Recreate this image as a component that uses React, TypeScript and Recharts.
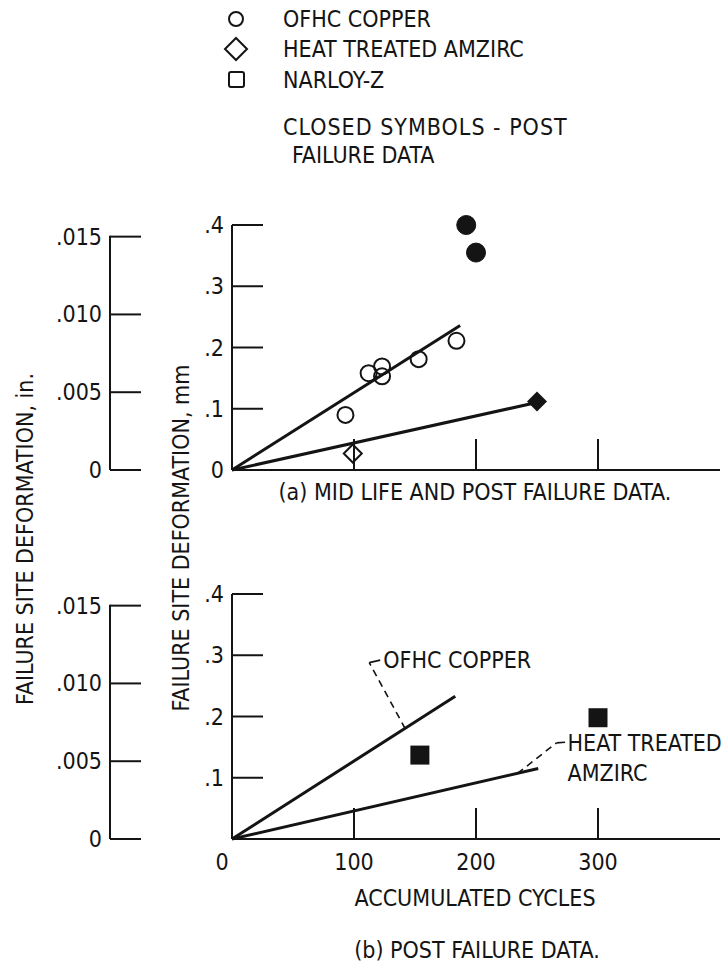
import React from 'react';
import { ScatterChart, Scatter, XAxis, YAxis } from 'recharts';

// ---------- data ----------
const ofhcMidCycles = [93, 112, 123, 123, 153, 184];
const ofhcMidDeform = [0.09, 0.158, 0.169, 0.153, 0.181, 0.211];
const ofhcPostCycles = [192, 200];
const ofhcPostDeform = [0.4, 0.355];
const amzircMidCycles = [99];
const amzircMidDeform = [0.027];
const amzircPostCycles = [250];
const amzircPostDeform = [0.112];
const narloyPostCycles = [154, 300];
const narloyPostDeform = [0.137, 0.198];

const ofhcFitACycles = [0, 187];
const ofhcFitADeform = [0, 0.236];
const amzircFitACycles = [0, 247];
const amzircFitADeform = [0, 0.109];
const ofhcFitBCycles = [0, 183];
const ofhcFitBDeform = [0, 0.233];
const amzircFitBCycles = [0, 251];
const amzircFitBDeform = [0, 0.115];

const ofhcLeaderCycles = [142, 112.5];
const ofhcLeaderDeform = [0.18, 0.288];
const ofhcHookCycles = [112.5, 121.5];
const ofhcHookDeform = [0.288, 0.292];
const amzircLeaderCycles = [234, 266];
const amzircLeaderDeform = [0.107, 0.157];
const amzircHookCycles = [266, 273];
const amzircHookDeform = [0.157, 0.158];
const calloutLabels = ['OFHC COPPER', 'HEAT TREATED', 'AMZIRC'];
const calloutCycles = [124, 275, 275];
const calloutDeform = [0.292, 0.157, 0.108];

const cycleTicks = [0, 100, 200, 300];
const cycleTickLabels = ['0', '100', '200', '300'];
const mmTicks = [0, 0.1, 0.2, 0.3, 0.4];
const mmTickLabels = ['0', '.1', '.2', '.3', '.4'];
const inchTicks = [0, 0.005, 0.01, 0.015];
const inchTickLabels = ['0', '.005', '.010', '.015'];
const MM_PER_IN = 25.4;
const CYCLE_MAX = 400;
const MM_MAX = 0.4;

const legendLabels = ['OFHC COPPER', 'HEAT TREATED AMZIRC', 'NARLOY-Z'];
const noteLines = ['CLOSED SYMBOLS - POST', 'FAILURE DATA'];

// ---------- styling / layout ----------
const FONT = "'Liberation Sans Narrow', 'DejaVu Sans Condensed', 'Arial Narrow', sans-serif";
const INK = '#141414';
const FS = 23;
const TICK_LEN = 31;
const TICK_GAP = 6;
const W = 722;
const PLOT_LEFT = 232;
const PLOT_RIGHT = 720;
const PLOT_H = 245;
const INCH_AXIS_X = 110;
const XAXIS_H = 30;

// axis ids: numeric so the mm axis (0) is always placed next to the plot, inch axis (1) outside it
const MM_AXIS = 0;
const IN_AXIS = 1;
const cycleDomain = [0, CYCLE_MAX];
const mmDomain = [0, MM_MAX];
const inchDomain = [0, MM_MAX / MM_PER_IN];
const axisLineStyle = { stroke: INK, strokeWidth: 2 };

const pts = (xs: number[], ys: number[]) => xs.map((x, i) => ({ x, y: ys[i] }));

const hollowCircle = (p: any) => (
  <circle cx={p.cx} cy={p.cy} r={8} fill="none" stroke={INK} strokeWidth={2} />
);
const solidCircle = (p: any) => <circle cx={p.cx} cy={p.cy} r={9.5} fill={INK} stroke={INK} />;
const hollowDiamond = (p: any) => {
  const cx = Number(p.cx);
  const cy = Number(p.cy);
  return (
    <path
      d={`M${cx},${cy - 9} L${cx + 9},${cy} L${cx},${cy + 9} L${cx - 9},${cy} Z`}
      fill="none"
      stroke={INK}
      strokeWidth={2}
    />
  );
};
const solidDiamond = (p: any) => {
  const cx = Number(p.cx);
  const cy = Number(p.cy);
  return <path d={`M${cx},${cy - 10} L${cx + 10},${cy} L${cx},${cy + 10} L${cx - 10},${cy} Z`} fill={INK} />;
};
const solidSquare = (p: any) => (
  <rect x={Number(p.cx) - 9.5} y={Number(p.cy) - 9.5} width={19} height={19} fill={INK} />
);
const noMark = () => <g />;

const calloutText = (p: any) => (
  <text x={p.cx} y={p.cy} dominantBaseline="central" fontFamily={FONT} fontSize={FS} fill={INK}>
    {p.payload.label}
  </text>
);

// inch axis tick: inward tick line + label; the top tick also draws the axis spine down to 0
const inchMax = inchTicks[inchTicks.length - 1];
const pxPerInch = (PLOT_H * MM_PER_IN) / MM_MAX;
const inchTick = (p: any) => {
  const v = Number(p.payload.value);
  const i = inchTicks.indexOf(v);
  const x = Number(p.x);
  const y = Number(p.y);
  const ax = x + TICK_GAP;
  return (
    <g>
      <line x1={ax} x2={ax + TICK_LEN} y1={y} y2={y} stroke={INK} strokeWidth={2} />
      {v === inchMax && <line x1={ax} x2={ax} y1={y - 1} y2={y + inchMax * pxPerInch} stroke={INK} strokeWidth={2} />}
      <text x={x - 2} y={y} textAnchor="end" dominantBaseline="central" fontFamily={FONT} fontSize={FS} fill={INK}>
        {inchTickLabels[i]}
      </text>
    </g>
  );
};

const makeMmTick = (showZeroLabel: boolean) => (p: any) => {
  const v = Number(p.payload.value);
  const i = mmTicks.indexOf(v);
  const x = Number(p.x);
  const y = Number(p.y);
  const ax = x + TICK_GAP;
  return (
    <g>
      {v !== 0 && <line x1={ax} x2={ax + TICK_LEN} y1={y} y2={y} stroke={INK} strokeWidth={2} />}
      {(v !== 0 || showZeroLabel) && (
        <text x={x - 2} y={y} textAnchor="end" dominantBaseline="central" fontFamily={FONT} fontSize={FS} fill={INK}>
          {mmTickLabels[i]}
        </text>
      )}
    </g>
  );
};
const mmTickTop = makeMmTick(true);
const mmTickBottom = makeMmTick(false);

const makeXTick = (showLabels: boolean) => (p: any) => {
  const v = Number(p.payload.value);
  const i = cycleTicks.indexOf(v);
  const x = Number(p.x);
  const y = Number(p.y);
  return (
    <g>
      {v !== 0 && <line x1={x} x2={x} y1={y} y2={y - TICK_LEN} stroke={INK} strokeWidth={2} />}
      {showLabels && (
        <text
          x={v === 0 ? x - 10 : x}
          y={y + 23}
          textAnchor="middle"
          dominantBaseline="central"
          fontFamily={FONT}
          fontSize={FS}
          fill={INK}
        >
          {cycleTickLabels[i]}
        </text>
      )}
    </g>
  );
};
const xTickTop = makeXTick(false);
const xTickBottom = makeXTick(true);

const fitLine = { stroke: INK, strokeWidth: 3 };
const leaderLine = { stroke: INK, strokeWidth: 1.6, strokeDasharray: '7 5' };
const hookLine = { stroke: INK, strokeWidth: 1.6 };

const inchPoints = inchTicks.map((v) => ({ x: 0, y: v }));
const calloutPoints = calloutLabels.map((label, i) => ({ x: calloutCycles[i], y: calloutDeform[i], label }));

function Panel({ height, plotTop, top }: { height: number; plotTop: number; top: boolean }) {
  const plotBottom = plotTop + PLOT_H;
  return (
    <ScatterChart
      width={W}
      height={height}
      margin={{ top: plotTop, right: W - PLOT_RIGHT, bottom: height - plotBottom - XAXIS_H, left: 0 }}
    >
      <XAxis
        type="number"
        dataKey="x"
        domain={cycleDomain}
        ticks={cycleTicks}
        interval={0}
        height={XAXIS_H}
        tickSize={0}
        tickMargin={0}
        tickLine={false}
        axisLine={axisLineStyle}
        tick={top ? xTickTop : xTickBottom}
      />
      <YAxis
        yAxisId={MM_AXIS}
        type="number"
        dataKey="y"
        width={PLOT_LEFT - INCH_AXIS_X}
        domain={mmDomain}
        ticks={mmTicks}
        interval={0}
        tickSize={0}
        tickMargin={TICK_GAP}
        tickLine={false}
        axisLine={axisLineStyle}
        tick={top ? mmTickTop : mmTickBottom}
      />
      <YAxis
        yAxisId={IN_AXIS}
        type="number"
        dataKey="y"
        width={INCH_AXIS_X}
        domain={inchDomain}
        ticks={inchTicks}
        interval={0}
        tickSize={0}
        tickMargin={TICK_GAP}
        tickLine={false}
        axisLine={false}
        tick={inchTick}
      />
      {top ? (
        <>
          <Scatter yAxisId={MM_AXIS} data={pts(ofhcFitACycles, ofhcFitADeform)} line={fitLine} shape={noMark} isAnimationActive={false} />
          <Scatter yAxisId={MM_AXIS} data={pts(amzircFitACycles, amzircFitADeform)} line={fitLine} shape={noMark} isAnimationActive={false} />
          <Scatter yAxisId={MM_AXIS} data={pts(ofhcMidCycles, ofhcMidDeform)} shape={hollowCircle} isAnimationActive={false} />
          <Scatter yAxisId={MM_AXIS} data={pts(ofhcPostCycles, ofhcPostDeform)} shape={solidCircle} isAnimationActive={false} />
          <Scatter yAxisId={MM_AXIS} data={pts(amzircMidCycles, amzircMidDeform)} shape={hollowDiamond} isAnimationActive={false} />
          <Scatter yAxisId={MM_AXIS} data={pts(amzircPostCycles, amzircPostDeform)} shape={solidDiamond} isAnimationActive={false} />
        </>
      ) : (
        <>
          <Scatter yAxisId={MM_AXIS} data={pts(ofhcFitBCycles, ofhcFitBDeform)} line={fitLine} shape={noMark} isAnimationActive={false} />
          <Scatter yAxisId={MM_AXIS} data={pts(amzircFitBCycles, amzircFitBDeform)} line={fitLine} shape={noMark} isAnimationActive={false} />
          <Scatter yAxisId={MM_AXIS} data={pts(ofhcLeaderCycles, ofhcLeaderDeform)} line={leaderLine} shape={noMark} isAnimationActive={false} />
          <Scatter yAxisId={MM_AXIS} data={pts(ofhcHookCycles, ofhcHookDeform)} line={hookLine} shape={noMark} isAnimationActive={false} />
          <Scatter yAxisId={MM_AXIS} data={pts(amzircLeaderCycles, amzircLeaderDeform)} line={leaderLine} shape={noMark} isAnimationActive={false} />
          <Scatter yAxisId={MM_AXIS} data={pts(amzircHookCycles, amzircHookDeform)} line={hookLine} shape={noMark} isAnimationActive={false} />
          <Scatter yAxisId={MM_AXIS} data={pts(narloyPostCycles, narloyPostDeform)} shape={solidSquare} isAnimationActive={false} />
          <Scatter yAxisId={MM_AXIS} data={calloutPoints} shape={calloutText} isAnimationActive={false} />
        </>
      )}
      <Scatter yAxisId={IN_AXIS} data={inchPoints} shape={noMark} isAnimationActive={false} />
    </ScatterChart>
  );
}

const txt = { fontFamily: FONT, fontSize: FS, fill: INK } as const;

export default function App() {
  return (
    <div style={{ position: 'absolute', left: 0, top: 0, width: W, height: 965, background: '#fff' }}>
      <div style={{ position: 'absolute', left: 0, top: 0 }}>
        <Panel height={520} plotTop={225} top={true} />
      </div>
      <div style={{ position: 'absolute', left: 0, top: 520 }}>
        <Panel height={445} plotTop={74} top={false} />
      </div>
      <svg width={W} height={965} style={{ position: 'absolute', left: 0, top: 0, pointerEvents: 'none' }}>
        {/* legend */}
        <circle cx={236} cy={19} r={7} fill="none" stroke={INK} strokeWidth={2} />
        <path d="M236,38 L247,49 L236,60 L225,49 Z" fill="none" stroke={INK} strokeWidth={2} />
        <rect x={229} y={72} width={15} height={15} rx={2} fill="none" stroke={INK} strokeWidth={2} />
        {legendLabels.map((l, i) => (
          <text key={l} x={283} y={[19, 49, 80][i]} dominantBaseline="central" {...txt}>
            {l}
          </text>
        ))}
        <text x={283} y={127} dominantBaseline="central" {...txt} letterSpacing={1}>
          {noteLines[0]}
        </text>
        <text x={292} y={155} dominantBaseline="central" {...txt}>
          {noteLines[1]}
        </text>
        {/* captions */}
        <text x={475} y={492} textAnchor="middle" dominantBaseline="central" {...txt}>
          (a) MID LIFE AND POST FAILURE DATA.
        </text>
        <text x={475} y={898} textAnchor="middle" dominantBaseline="central" {...txt}>
          ACCUMULATED CYCLES
        </text>
        <text x={477} y={950} textAnchor="middle" dominantBaseline="central" {...txt}>
          (b) POST FAILURE DATA.
        </text>
        {/* axis titles */}
        <text x={25} y={539} textAnchor="middle" dominantBaseline="central" transform="rotate(-90 25 539)" {...txt}>
          FAILURE SITE DEFORMATION, in.
        </text>
        <text x={181} y={538} textAnchor="middle" dominantBaseline="central" transform="rotate(-90 181 538)" {...txt}>
          FAILURE SITE DEFORMATION, mm
        </text>
      </svg>
    </div>
  );
}
